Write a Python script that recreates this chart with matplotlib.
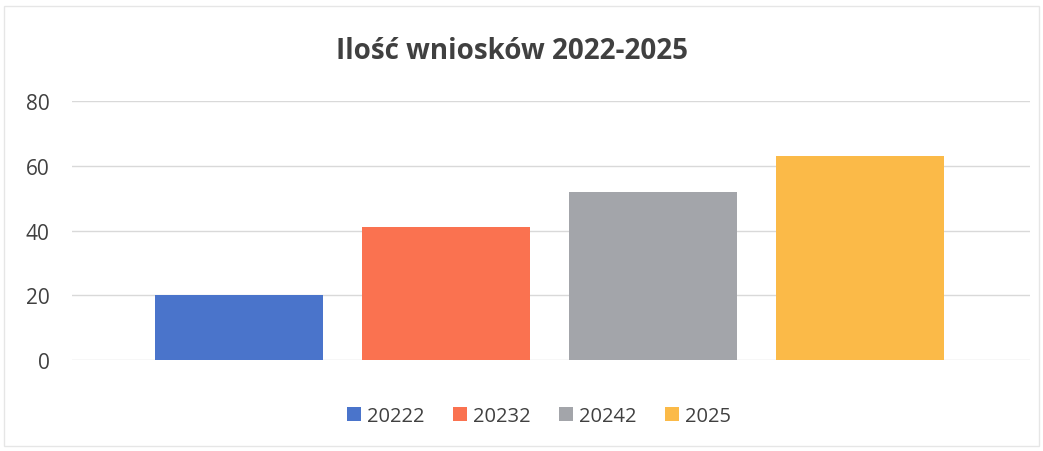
import numpy as np
import matplotlib
matplotlib.use('Agg')
import matplotlib.pyplot as plt
from matplotlib.patches import Rectangle

plt.rcParams['font.family'] = ['Open Sans', 'DejaVu Sans']

# dane
lata = ['20222', '20232', '20242', '2025']
wnioski = [20, 41, 52, 63]
kolory = ['#4A74CB', '#FA7250', '#A3A5AA', '#FBBA48']
tytul = 'Ilość wniosków 2022-2025'

fig = plt.figure(figsize=(10.43, 4.52), dpi=100)
ax = fig.add_axes([0.069, 0.2013, 0.9185, 0.5730])

x = np.arange(len(lata))
bary = ax.bar(x, wnioski, width=0.81, color=kolory, label=lata, zorder=3)

ax.set_ylim(0, 80)
ax.set_xlim(-0.807, 3.82)
ax.set_yticks([0, 20, 40, 60, 80])
ax.set_xticks([])
ax.yaxis.grid(True, color='#D9D9D9', linewidth=1, zorder=0)
for s in ax.spines.values():
    s.set_visible(False)
ax.tick_params(axis='y', length=0, pad=16, labelsize=15, labelcolor='#404040')

fig.text(0.491, 0.885, tytul, ha='center', va='center', fontsize=20,
         fontweight='bold', color='#404040')

fig.legend(bary, lata, loc='center', bbox_to_anchor=(0.517, 0.077), ncol=4,
           frameon=False, fontsize=14.5, handlelength=0.7, handleheight=0.7,
           handletextpad=0.3, columnspacing=1.4, labelcolor='#404040')

# ramka wykresu
fig.patches.append(Rectangle((0.004, 0.01), 0.992, 0.975, transform=fig.transFigure,
                             fill=False, edgecolor='#E6E6E6', linewidth=1))

fig.savefig('out.png', dpi=100)
